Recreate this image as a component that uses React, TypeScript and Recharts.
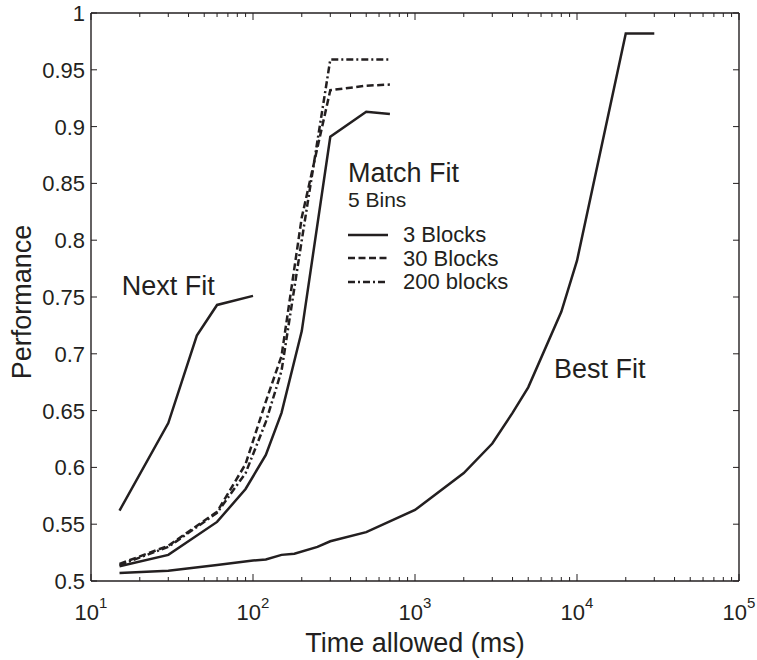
import React from 'react';
import { LineChart, Line, XAxis, YAxis, ReferenceDot, Legend } from 'recharts';

const FONT = '"Liberation Sans", Arial, Helvetica, sans-serif';
const INK = '#231f20';

// Next Fit
const nextFitTimes = [15, 30, 45, 60, 100];
const nextFitPerf = [0.562, 0.639, 0.716, 0.743, 0.751];

// Best Fit
const bestFitTimes = [15, 30, 60, 100, 120, 150, 180, 250, 300, 500, 1000, 2000, 3000, 4000, 5000, 8000, 10000, 20000, 30000];
const bestFitPerf = [0.507, 0.509, 0.514, 0.518, 0.519, 0.523, 0.524, 0.53, 0.535, 0.543, 0.5625, 0.595, 0.621, 0.648, 0.6705, 0.737, 0.782, 0.982, 0.982];

// Match Fit, 5 bins
const matchTimes = [15, 30, 60, 90, 120, 150, 200, 300, 500, 700];
const match3Perf = [0.513, 0.523, 0.552, 0.581, 0.611, 0.648, 0.72, 0.891, 0.913, 0.911];
const match30Perf = [0.515, 0.531, 0.561, 0.603, 0.658, 0.698, 0.82, 0.932, 0.936, 0.937];
const match200Perf = [0.514, 0.53, 0.56, 0.595, 0.64, 0.685, 0.8, 0.959, 0.959, 0.959];

// axes
const xMajorTicks = [10, 100, 1000, 10000, 100000];
const xExponents = ['1', '2', '3', '4', '5'];
const xMinorTicks: number[] = [];
xMajorTicks.slice(0, -1).forEach((m) => {
  for (let k = 2; k <= 9; k++) xMinorTicks.push(m * k);
});
const xAllTicks = [...xMajorTicks, ...xMinorTicks].sort((a, b) => a - b);
const yTicks = [0.5, 0.55, 0.6, 0.65, 0.7, 0.75, 0.8, 0.85, 0.9, 0.95, 1];
const yTickLabels = ['0.5', '0.55', '0.6', '0.65', '0.7', '0.75', '0.8', '0.85', '0.9', '0.95', '1'];

const toRows = (times: number[], perf: number[]) => times.map((t, i) => ({ time: t, perf: perf[i] }));

const matchSeries = [
  { name: '3 Blocks', perf: match3Perf, dash: undefined as string | undefined },
  { name: '30 Blocks', perf: match30Perf, dash: '7 3.5' },
  { name: '200 blocks', perf: match200Perf, dash: '7 3 2 3' },
];

function BottomTick(props: any) {
  const { x, y, payload } = props;
  const idx = xMajorTicks.indexOf(payload.value);
  const major = idx >= 0;
  return (
    <g>
      <line x1={x} x2={x} y1={y} y2={y - (major ? 7 : 4)} stroke={INK} strokeWidth={1} />
      {major && (
        <text x={x} y={y + 39} textAnchor="middle" fontFamily={FONT} fontSize={22} fill={INK}>
          <tspan>10</tspan>
          <tspan dy={-12} fontSize={15}>{xExponents[idx]}</tspan>
        </text>
      )}
    </g>
  );
}

function TopTick(props: any) {
  const { x, y, payload } = props;
  const major = xMajorTicks.includes(payload.value);
  return <line x1={x} x2={x} y1={y} y2={y + (major ? 7 : 4)} stroke={INK} strokeWidth={1} />;
}

function LeftTick(props: any) {
  const { x, y, payload } = props;
  const idx = yTicks.indexOf(payload.value);
  return (
    <g>
      <line x1={x} x2={x + 6} y1={y} y2={y} stroke={INK} strokeWidth={1} />
      <text x={x - 6} y={y} dy="0.36em" textAnchor="end" fontFamily={FONT} fontSize={22} fill={INK}>
        {yTickLabels[idx]}
      </text>
    </g>
  );
}

function RightTick(props: any) {
  const { x, y } = props;
  return <line x1={x} x2={x - 6} y1={y} y2={y} stroke={INK} strokeWidth={1} />;
}

function MatchLegend() {
  return (
    <div style={{ fontFamily: FONT, color: INK }}>
      <div style={{ fontSize: 27, lineHeight: '30px' }}>Match Fit</div>
      <div style={{ fontSize: 21, lineHeight: '24px' }}>5 Bins</div>
      <div style={{ marginTop: 11 }}>
        {matchSeries.map((s) => (
          <div key={s.name} style={{ display: 'flex', alignItems: 'center', height: 23.5 }}>
            <svg width={40} height={10} style={{ marginRight: 15 }}>
              <line x1={0} x2={40} y1={5} y2={5} stroke={INK} strokeWidth={2.5} strokeDasharray={s.dash} />
            </svg>
            <span style={{ fontSize: 22, lineHeight: '23.5px' }}>{s.name}</span>
          </div>
        ))}
      </div>
    </div>
  );
}

const annotation = (text: string) => (p: any) => {
  const vb = p.viewBox;
  return (
    <text x={vb.x} y={vb.y} dy="0.36em" textAnchor="start" fontFamily={FONT} fontSize={27} fill={INK}>
      {text}
    </text>
  );
};

export default function App() {
  const axisLine = { stroke: INK, strokeWidth: 1.4 };
  return (
    <div style={{ width: 757, height: 660, background: '#fff' }}>
      <style>{'body{margin:0}'}</style>
      <LineChart width={757} height={660} margin={{ top: 12, right: 17, bottom: 19, left: 31 }}>
        <XAxis
          xAxisId="b"
          orientation="bottom"
          type="number"
          dataKey="time"
          scale="log"
          domain={[10, 100000]}
          allowDataOverflow
          ticks={xAllTicks}
          interval={0}
          height={60}
          tickSize={0}
          tickMargin={0}
          tickLine={false}
          axisLine={axisLine}
          tick={<BottomTick />}
          label={(p: any) => {
            const vb = p.viewBox;
            return (
              <text x={vb.x + vb.width / 2} y={vb.y + 71} textAnchor="middle" fontFamily={FONT} fontSize={27} fill={INK}>
                Time allowed (ms)
              </text>
            );
          }}
        />
        <XAxis
          xAxisId="t"
          orientation="top"
          type="number"
          dataKey="time"
          scale="log"
          domain={[10, 100000]}
          allowDataOverflow
          ticks={xAllTicks}
          interval={0}
          height={1}
          tickSize={0}
          tickMargin={0}
          tickLine={false}
          axisLine={axisLine}
          tick={<TopTick />}
        />
        <YAxis
          yAxisId="l"
          orientation="left"
          type="number"
          domain={[0.5, 1]}
          allowDataOverflow
          ticks={yTicks}
          interval={0}
          width={60}
          tickSize={0}
          tickMargin={0}
          tickLine={false}
          axisLine={axisLine}
          tick={<LeftTick />}
          label={(p: any) => {
            const vb = p.viewBox;
            const cx = vb.x + vb.width - 69;
            const cy = vb.y + vb.height / 2 + 5;
            return (
              <text
                x={cx}
                y={cy}
                transform={`rotate(-90, ${cx}, ${cy})`}
                textAnchor="middle"
                dominantBaseline="central"
                fontFamily={FONT}
                fontSize={27}
                fill={INK}
              >
                Performance
              </text>
            );
          }}
        />
        <YAxis
          yAxisId="r"
          orientation="right"
          type="number"
          domain={[0.5, 1]}
          allowDataOverflow
          ticks={yTicks}
          interval={0}
          width={1}
          tickSize={0}
          tickMargin={0}
          tickLine={false}
          axisLine={axisLine}
          tick={<RightTick />}
        />
        <Line
          xAxisId="b"
          yAxisId="l"
          name="Next Fit"
          legendType="none"
          data={toRows(nextFitTimes, nextFitPerf)}
          dataKey="perf"
          type="linear"
          stroke={INK}
          strokeWidth={2.5}
          dot={false}
          isAnimationActive={false}
        />
        <Line
          xAxisId="b"
          yAxisId="l"
          name="Best Fit"
          legendType="none"
          data={toRows(bestFitTimes, bestFitPerf)}
          dataKey="perf"
          type="linear"
          stroke={INK}
          strokeWidth={2.5}
          dot={false}
          isAnimationActive={false}
        />
        {matchSeries.map((s) => (
          <Line
            key={s.name}
            xAxisId="b"
            yAxisId="l"
            name={s.name}
            data={toRows(matchTimes, s.perf)}
            dataKey="perf"
            type="linear"
            stroke={INK}
            strokeWidth={2.5}
            strokeDasharray={s.dash}
            dot={false}
            isAnimationActive={false}
          />
        ))}
        <ReferenceDot xAxisId="b" yAxisId="l" x={15.5} y={0.7606} r={0} fill="none" stroke="none" label={annotation('Next Fit')} />
        <ReferenceDot xAxisId="b" yAxisId="l" x={7211} y={0.6875} r={0} fill="none" stroke="none" label={annotation('Best Fit')} />
        <Legend
          layout="vertical"
          align="center"
          verticalAlign="middle"
          content={() => <MatchLegend />}
          wrapperStyle={{ left: 348, top: 158, width: 200, height: 'auto' }}
        />
      </LineChart>
    </div>
  );
}
